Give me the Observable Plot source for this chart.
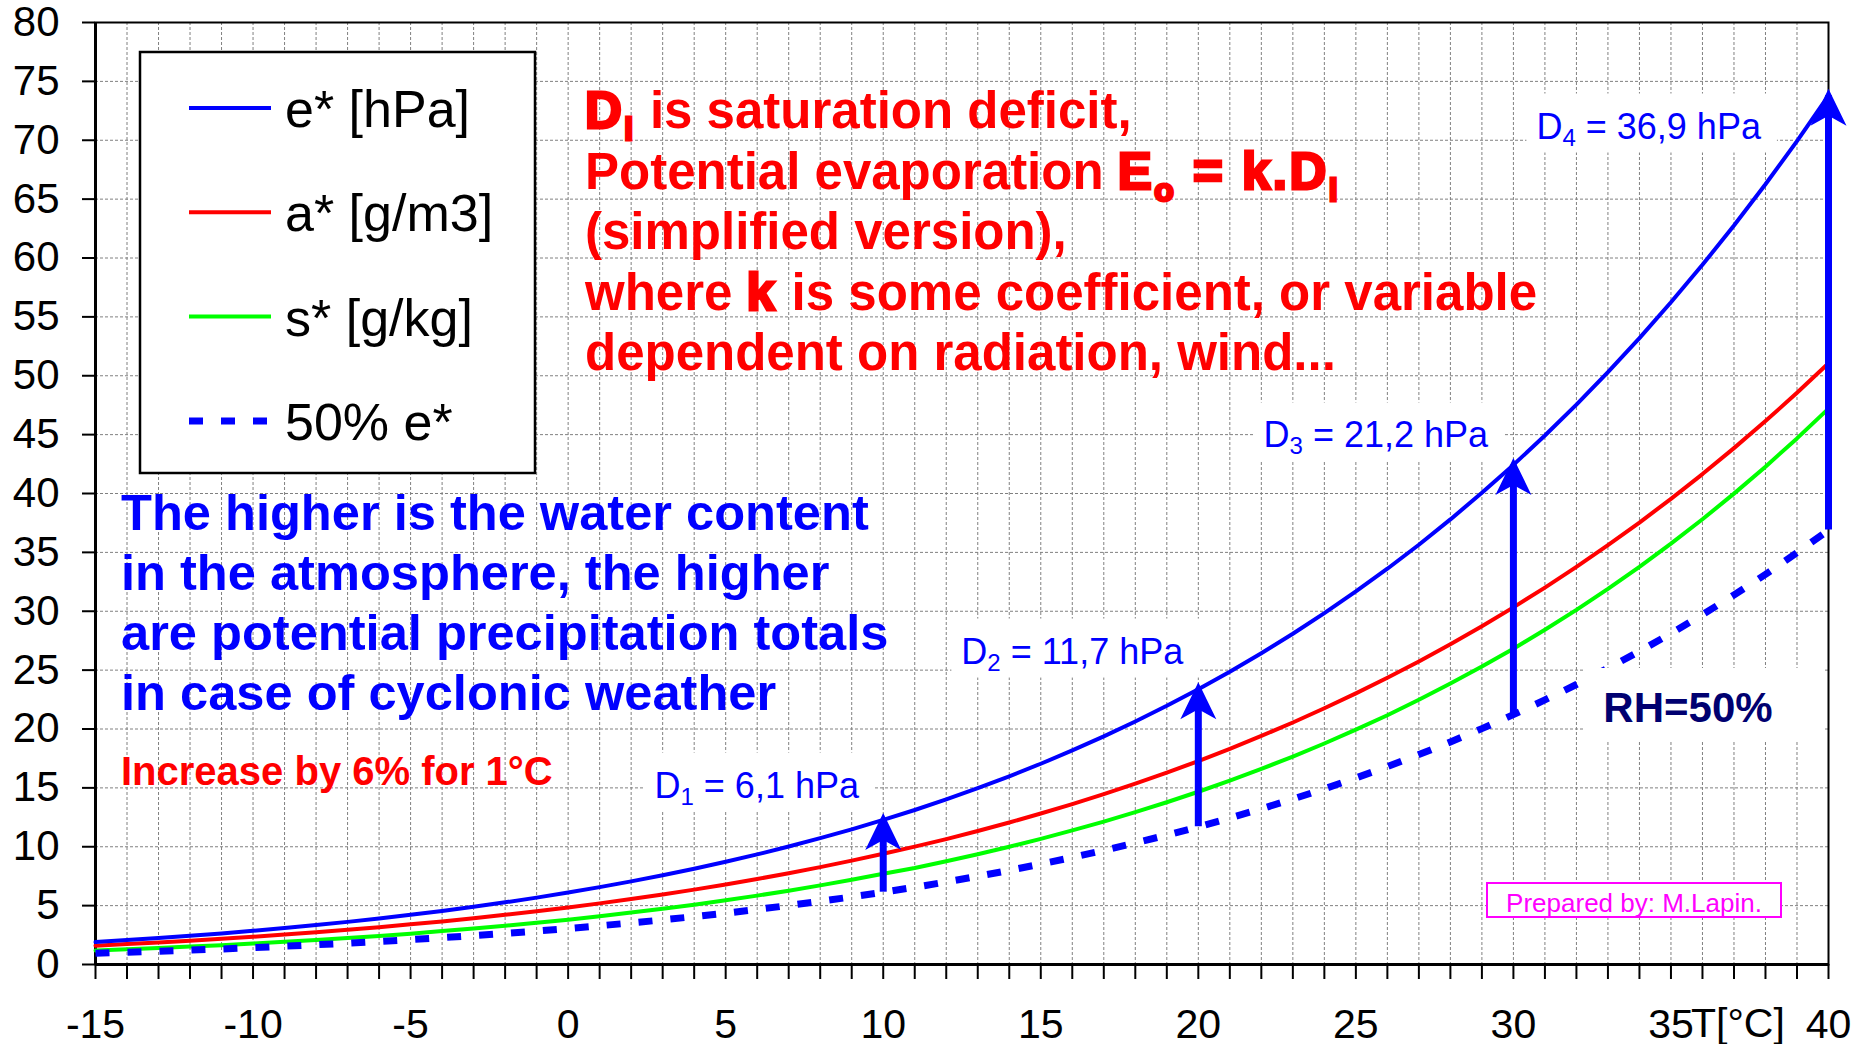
<!DOCTYPE html>
<html><head><meta charset="utf-8">
<script src="https://cdn.jsdelivr.net/npm/d3@7"></script>
<script src="https://cdn.jsdelivr.net/npm/@observablehq/plot@0.6"></script>
<style>
html,body{margin:0;padding:0;background:#fff;}
#chart{position:relative;width:1854px;height:1044px;}
</style></head><body><div id="chart"></div>
<script>
// ---- data ----
const temps = [-15,-14,-13,-12,-11,-10,-9,-8,-7,-6,-5,-4,-3,-2,-1,0,1,2,3,4,5,6,7,8,9,10,11,12,13,14,15,16,17,18,19,20,21,22,23,24,25,26,27,28,29,30,31,32,33,34,35,36,37,38,39,40];
const eSat = [1.91,2.08,2.25,2.44,2.64,2.86,3.10,3.35,3.62,3.91,4.22,4.55,4.90,5.28,5.68,6.11,6.57,7.06,7.58,8.13,8.72,9.35,10.02,10.73,11.48,12.28,13.12,14.02,14.97,15.98,17.05,18.18,19.37,20.64,21.97,23.38,24.87,26.44,28.09,29.84,31.68,33.61,35.65,37.80,40.06,42.43,44.93,47.55,50.31,53.20,56.24,59.42,62.76,66.26,69.93,73.78];
const aSat = [1.60,1.74,1.87,2.02,2.18,2.36,2.54,2.74,2.95,3.17,3.41,3.66,3.93,4.22,4.52,4.85,5.19,5.56,5.95,6.36,6.79,7.26,7.75,8.27,8.82,9.40,10.01,10.65,11.34,12.06,12.82,13.62,14.47,15.36,16.30,17.28,18.32,19.41,20.55,21.76,23.03,24.35,25.74,27.20,28.73,30.33,32.01,33.77,35.61,37.53,39.55,41.65,43.85,46.15,48.55,51.06];
const sSat = [1.19,1.30,1.40,1.52,1.64,1.78,1.93,2.09,2.25,2.43,2.62,2.84,3.05,3.29,3.54,3.81,4.09,4.41,4.73,5.08,5.45,5.85,6.27,6.72,7.20,7.70,8.20,8.77,9.36,10.00,10.67,11.39,12.14,12.94,13.78,14.67,15.62,16.61,17.66,18.77,19.94,21.17,22.48,23.86,25.30,26.82,28.43,30.12,31.90,33.77,35.74,37.81,39.99,42.28,44.68,47.21];
const eHalf = [0.96,1.04,1.13,1.22,1.32,1.43,1.55,1.68,1.81,1.96,2.11,2.28,2.45,2.64,2.84,3.06,3.29,3.53,3.79,4.07,4.36,4.68,5.01,5.37,5.74,6.14,6.56,7.01,7.49,7.99,8.53,9.09,9.69,10.32,10.99,11.69,12.44,13.22,14.05,14.92,15.84,16.81,17.83,18.90,20.03,21.22,22.47,23.78,25.16,26.60,28.12,29.71,31.38,33.13,34.97,36.89];
const seriesNames = ["e* [hPa]", "a* [g/m3]", "s* [g/kg]", "50% e*"];
const seriesColors = ["#0000ff", "#ff0000", "#00ff00", "#0000ff"];
const arrowTemps = [10, 20, 30, 40];
const deficits = [6.1, 11.7, 21.2, 36.9];
const yTicks = [0,5,10,15,20,25,30,35,40,45,50,55,60,65,70,75,80];
const xTickLabels = [-15,-10,-5,0,5,10,15,20,25,30,35,40];

// ---- tables built from the arrays ----
const rows = temps.map((t, i) => ({t, e: eSat[i], a: aSat[i], s: sSat[i], h: eHalf[i]}));
const dLabelX = [2.74, 12.48, 22.07, 30.73];
const dLabelY = [14.18, 25.56, 43.91, 70.15];
const arrows = arrowTemps.map((t, i) => {
  const k = temps.indexOf(t);
  return {t, low: eHalf[k], high: eSat[k], lx: dLabelX[i], ly: dLabelY[i],
          label: `D${i + 1} = ${String(deficits[i]).replace(".", ",")} hPa`};
});

const FONT = "'Liberation Sans', Arial, Helvetica, sans-serif";
const arrowHead = {draw(ctx) { ctx.moveTo(0, 0); ctx.lineTo(18, 37); ctx.lineTo(0, 27); ctx.lineTo(-18, 37); ctx.closePath(); }};
const dash = "14,18";

const plot = Plot.plot({
  width: 1854, height: 1044,
  marginLeft: 95, marginRight: 26, marginTop: 22, marginBottom: 80,
  style: {fontFamily: FONT, fontSize: "42px", background: "white", overflow: "visible", color: "black"},
  x: {domain: [-15, 40]},
  y: {domain: [0, 80]},
  marks: [
    Plot.gridX({ticks: temps, stroke: "#808080", strokeOpacity: 1, strokeWidth: 1, strokeDasharray: "3,2"}),
    Plot.gridY({ticks: yTicks, stroke: "#808080", strokeOpacity: 1, strokeWidth: 1, strokeDasharray: "3,2"}),
    Plot.frame({stroke: "black", strokeWidth: 2}),
    Plot.axisX({ticks: temps, tickSize: 15, tickPadding: 29, strokeWidth: 2, fontSize: 41,
      tickFormat: d => xTickLabels.includes(d) ? String(d) : "", label: null}),
    Plot.axisY({ticks: yTicks, tickSize: 13, tickPadding: 23, strokeWidth: 2, fontSize: 42,
      tickFormat: d => String(d), label: null}),
    Plot.ruleX([-15], {stroke: "black", strokeWidth: 3}),
    Plot.ruleY([0], {stroke: "black", strokeWidth: 3}),
    Plot.line(rows, {x: "t", y: "s", stroke: seriesColors[2], strokeWidth: 4}),
    Plot.line(rows, {x: "t", y: "a", stroke: seriesColors[1], strokeWidth: 4}),
    Plot.line(rows, {x: "t", y: "e", stroke: seriesColors[0], strokeWidth: 4}),
    Plot.line(rows, {x: "t", y: "h", stroke: seriesColors[3], strokeWidth: 7, strokeDasharray: dash, strokeLinecap: "butt"}),
    Plot.ruleX(arrows, {x: "t", y1: "low", y2: "high", stroke: "#0000ff", strokeWidth: 7}),
    Plot.dot(arrows, {x: "t", y: "high", symbol: arrowHead, r: 10, fill: "#0000ff", stroke: "none", dy: -7}),
    Plot.text(arrows, {x: "lx", y: "ly", text: "label", textAnchor: "start", lineAnchor: "middle",
      dy: -11.5, fontSize: 36, fill: "#0000ff", fontFamily: FONT})
  ]
});
document.getElementById("chart").append(plot);
const svg = d3.select(plot);
const svgBox = plot.getBoundingClientRect();

// drop the empty tick labels (minor ticks carry no label)
svg.selectAll("text").filter(function() { return this.textContent === ""; }).remove();

// white boxes + subscripts for the D labels
const dTexts = svg.selectAll("text").filter(function() { return /^D\d = /.test(this.textContent); });
const dGroupNode = dTexts.node() ? dTexts.node().parentNode : null;
const boxG = d3.select(plot).insert("g", () => dGroupNode);
dTexts.each(function() {
  const el = d3.select(this);
  const s = el.text();
  el.text(null).style("white-space", "pre");
  el.append("tspan").text(s[0]);
  el.append("tspan").attr("font-size", 24).attr("dy", 7).text(s[1]);
  el.append("tspan").attr("dy", -7).text(s.slice(2));
  const b = this.getBoundingClientRect();
  boxG.append("rect")
    .attr("x", b.left - svgBox.left - 10).attr("y", b.top - svgBox.top - 12)
    .attr("width", b.width + 25).attr("height", b.height + 14).attr("fill", "white");
});

// legend
const lg = svg.append("g").attr("font-family", FONT).attr("text-anchor", "start");
lg.append("rect").attr("x", 140).attr("y", 52).attr("width", 395).attr("height", 421)
  .attr("fill", "white").attr("stroke", "black").attr("stroke-width", 2.5);
seriesNames.forEach((name, i) => {
  const cy = 108 + i * 104.3;
  lg.append("line").attr("x1", 189).attr("x2", 271).attr("y1", cy).attr("y2", cy)
    .attr("stroke", seriesColors[i]).attr("stroke-width", i === 3 ? 7 : 4)
    .attr("stroke-dasharray", i === 3 ? dash : null);
  lg.append("text").attr("x", 285).attr("y", cy + 19).attr("font-size", 52).attr("fill", "black").text(name);
});

// rich text helper
function richBlock(lines, x, y0, step, size, color, subSize, subDy) {
  const g = svg.append("g").attr("fill", color).attr("font-weight", "bold")
    .attr("font-size", size).attr("font-family", FONT).attr("text-anchor", "start");
  lines.forEach((segs, i) => {
    const t = g.append("text").attr("x", x).attr("y", y0 + i * step).style("white-space", "pre");
    let shifted = false;
    segs.forEach(s => {
      const sp = t.append("tspan").text(s.t);
      if (s.sub) { sp.attr("font-size", subSize); if (!shifted) sp.attr("dy", subDy); shifted = true; }
      else if (shifted) { sp.attr("dy", -subDy); shifted = false; }
      if (s.em) sp.attr("stroke", color).attr("stroke-width", 3).attr("letter-spacing", 2.5);
    });
  });
}

richBlock([
  [{t: "D", em: 1}, {t: "i", em: 1, sub: 1}, {t: " is saturation deficit,"}],
  [{t: "Potential evaporation "}, {t: "E", em: 1}, {t: "o", em: 1, sub: 1}, {t: " = k.D", em: 1}, {t: "i", em: 1, sub: 1}],
  [{t: "(simplified version),"}],
  [{t: "where "}, {t: "k", em: 1}, {t: " is some coefficient, or variable"}],
  [{t: "dependent on radiation, wind..."}]
], 585, 128, 60.5, 51, "#ff0000", 32, 12);

richBlock([
  [{t: "The higher is the water content"}],
  [{t: "in the atmosphere, the higher"}],
  [{t: "are potential precipitation totals"}],
  [{t: "in case of cyclonic weather"}]
], 121, 530, 60, 50.6, "#0000ff", 32, 12);

richBlock([[{t: "Increase by 6% for 1°C"}]], 121, 785, 0, 40, "#ff0000", 26, 8);

// RH=50% label
svg.append("rect").attr("x", 1583).attr("y", 668).attr("width", 242).attr("height", 74).attr("fill", "white");
svg.append("text").attr("x", 1688).attr("y", 722).attr("text-anchor", "middle").attr("font-family", FONT)
  .attr("font-weight", "bold").attr("font-size", 42).attr("fill", "#000070").text("RH=50%");

// Prepared by box
svg.append("rect").attr("x", 1487).attr("y", 883).attr("width", 294).attr("height", 34)
  .attr("fill", "white").attr("stroke", "#ff00ff").attr("stroke-width", 2);
svg.append("text").attr("x", 1634).attr("y", 912).attr("text-anchor", "middle").attr("font-family", FONT)
  .attr("font-size", 26).attr("fill", "#ff00ff").text("Prepared by: M.Lapin.");

// axis title next to the 35 tick
svg.append("text").attr("x", 1691).attr("y", 1037).attr("text-anchor", "start").attr("font-family", FONT)
  .attr("font-size", 41).attr("fill", "black").text("T[°C]");
</script></body></html>
